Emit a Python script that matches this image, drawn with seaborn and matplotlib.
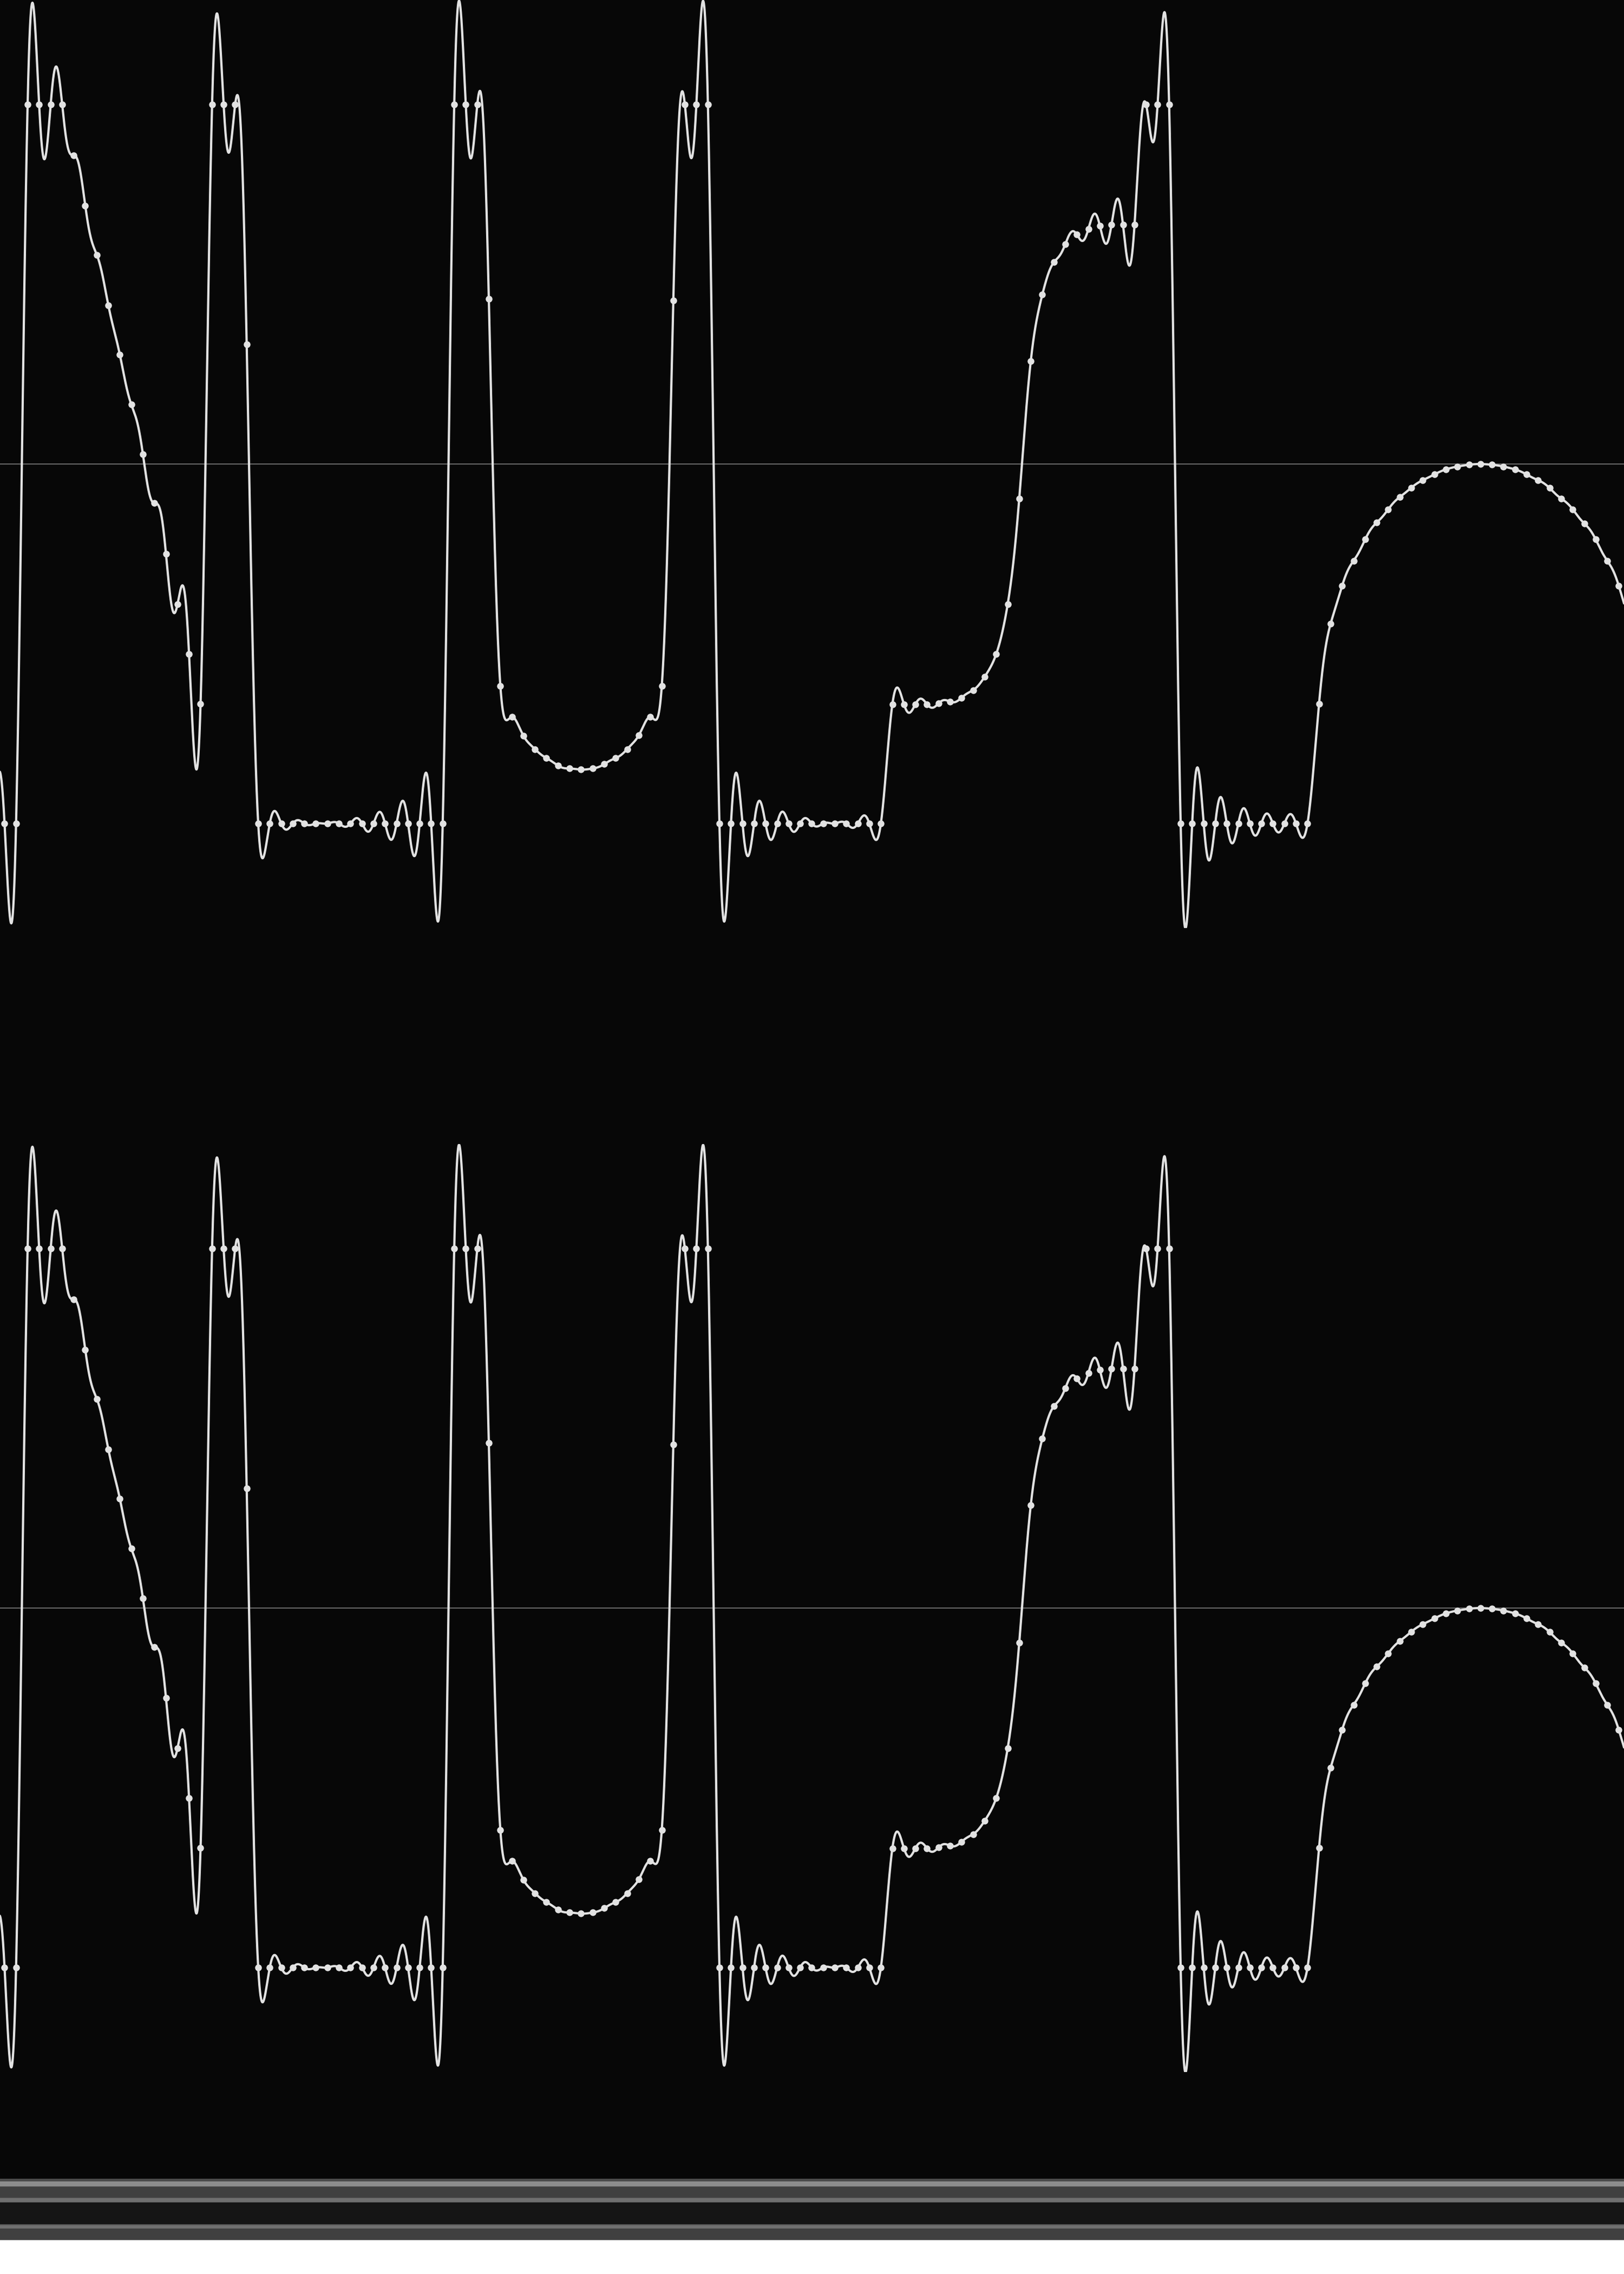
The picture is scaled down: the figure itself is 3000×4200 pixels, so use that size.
import numpy as np
import pandas as pd
import matplotlib.pyplot as plt
import seaborn as sns

# Sample values (one value per sample, left to right).
# The two channels of the reference are identical.
lead_in = [-1.0] * 40          # samples left of the visible window
samples = [
    -1.0, -1.0, 1.0, 1.0, 1.0, 1.0,
    0.859, 0.719, 0.582, 0.442, 0.304, 0.165, 0.027, -0.109, -0.25, -0.39, -0.528, -0.667,
    1.0, 1.0, 1.0, 0.333,
    -1.0, -1.0, -1.0, -1.0, -1.0, -1.0, -1.0, -1.0, -1.0, -1.0, -1.0, -1.0, -1.0, -1.0, -1.0, -1.0, -1.0,
    1.0, 1.0, 1.0, 0.459, -0.617,
    -0.704, -0.756, -0.793, -0.818, -0.839, -0.847, -0.850, -0.847, -0.835, -0.818, -0.793, -0.755, -0.704,
    -0.617, 0.455, 1.0, 1.0, 1.0,
    -1.0, -1.0, -1.0, -1.0, -1.0, -1.0, -1.0, -1.0, -1.0, -1.0, -1.0, -1.0, -1.0, -1.0, -1.0,
    -0.668, -0.668, -0.668, -0.668, -0.666, -0.661, -0.650, -0.629, -0.592, -0.529,
    -0.39, -0.097, 0.286, 0.471, 0.561, 0.612, 0.638, 0.654, 0.662, 0.665, 0.665, 0.665,
    1.0, 1.0, 1.0,
    -1.0, -1.0, -1.0, -1.0, -1.0, -1.0, -1.0, -1.0, -1.0, -1.0, -1.0, -1.0,
    -0.667, -0.445, -0.339, -0.269, -0.21, -0.163, -0.126, -0.092, -0.066, -0.045, -0.029, -0.015,
    -0.007, -0.002, 0.0, -0.002, -0.007, -0.015, -0.029, -0.045, -0.067, -0.096, -0.126, -0.165,
    -0.21, -0.269, -0.339,
]
lead_out = [-0.445, -0.667] + [-1.0] * 40   # samples right of the visible window

channels = {'left': samples, 'right': list(samples)}

BG = '#070707'
WAVE = '#e2e2e2'
TAPS = 16     # half-width of the windowed-sinc used to draw between samples


def kernel(x):
    # Hann-windowed sinc
    w = 0.5 + 0.5 * np.cos(np.pi * x / TAPS)
    return np.where(np.abs(x) < TAPS, np.sinc(x) * w, 0.0)


sns.set_theme(style='dark', rc={'axes.facecolor': BG, 'figure.facecolor': BG})

fig = plt.figure(figsize=(10, 14), dpi=300)
fig.patch.set_facecolor(BG)

H = 4200.0
span = 857.0 / 664.0          # visible amplitude range of a channel
ch_h = 1714.0 / H
bottoms = [1 - 1714.0 / H, 1 - 3827.0 / H]

x_lo, x_hi = -0.394, 140.45

for (name, vals), bottom in zip(channels.items(), bottoms):
    full = np.array(lead_in + vals + lead_out)
    idx = np.arange(len(full)) - len(lead_in)
    # band-limited reconstruction between samples, as the editor draws it
    t = np.arange(x_lo - 0.2, x_hi + 0.2, 0.01)
    curve = kernel(t[:, None] - idx[None, :]) @ full
    wave = pd.DataFrame({'t': t, 'amp': curve})
    pts = pd.DataFrame({'n': np.arange(len(vals)), 'amp': vals})

    ax = fig.add_axes([0, bottom, 1, ch_h])
    ax.set_facecolor(BG)
    ax.axhline(0, color='#6f6f6f', lw=0.45, zorder=1)
    sns.lineplot(data=wave, x='t', y='amp', ax=ax, color=WAVE, lw=1.0,
                 estimator=None, sort=False, legend=False, zorder=3)
    sns.scatterplot(data=pts, x='n', y='amp', ax=ax, color=WAVE, s=9,
                    linewidth=0, legend=False, zorder=4)
    ax.set_xlim(x_lo, x_hi)
    ax.set_ylim(-span, span)
    ax.axis('off')

# scroll bar / status strip under the tracks
bands = [
    (4024, 4028.5, '#4a4a4a'), (4028.5, 4038, '#8c8c8c'), (4038, 4039, '#5a5a5a'),
    (4039, 4059, '#404040'), (4059, 4060, '#5a5a5a'), (4060, 4066.5, '#6f6f6f'),
    (4066.5, 4068, '#555555'), (4068, 4108, '#151515'), (4108, 4109.5, '#555555'),
    (4109.5, 4116, '#707070'), (4116, 4136.5, '#404040'), (4136.5, 4137.5, '#b5b5b5'),
    (4137.5, 4200, '#ffffff'),
]
bar_ax = fig.add_axes([0, 0, 1, (H - 4024) / H])
for top, bot, col in bands:
    bar_ax.axhspan(top, bot, color=col, lw=0)
bar_ax.set_ylim(4200, 4024)
bar_ax.set_xlim(0, 1)
bar_ax.axis('off')

fig.savefig('out.png', dpi=300, facecolor=BG)
